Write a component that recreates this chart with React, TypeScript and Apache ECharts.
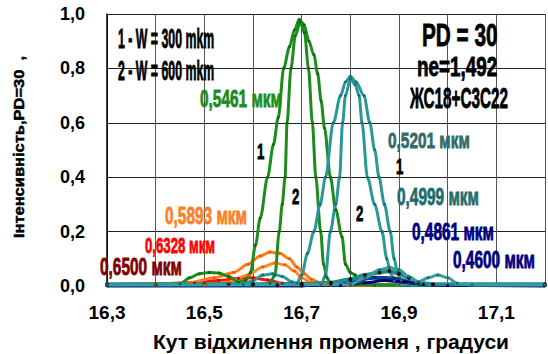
import React, { useEffect, useRef } from "react";
import * as echarts from "echarts";

// x-axis: angle (degrees), y-axis: intensity
const xTicksMin = 16.3;
const xTicksMax = 17.2;
const yTicksMax = 1.0;

const darkRed6500: number[][] = [
  [16.3, 0.004], [16.4, 0.005], [16.5, 0.006], [16.55, 0.008], [16.6, 0.006], [16.65, 0.003], [16.7, 0.002],
];
const red6328: number[][] = [
  [16.3, 0.005], [16.4, 0.008], [16.48, 0.012], [16.53, 0.02], [16.57, 0.028], [16.6, 0.03],
  [16.63, 0.022], [16.66, 0.01], [16.7, 0.003], [16.8, 0.002],
];
const orange5893a: number[][] = [
  [16.3, 0.004], [16.4, 0.006], [16.47, 0.012], [16.52, 0.03], [16.56, 0.05], [16.59, 0.08],
  [16.615, 0.11], [16.635, 0.125], [16.655, 0.12], [16.675, 0.1], [16.69, 0.07], [16.705, 0.045],
  [16.72, 0.025], [16.74, 0.01], [16.76, 0.004], [16.9, 0.003],
];
const orange5893b: number[][] = [
  [16.3, 0.003], [16.5, 0.004], [16.55, 0.015], [16.59, 0.04], [16.62, 0.07], [16.645, 0.085],
  [16.665, 0.078], [16.685, 0.055], [16.7, 0.03], [16.72, 0.012], [16.75, 0.004], [16.9, 0.003],
];
const green5461w300: number[][] = [
  [16.3, 0.003], [16.4, 0.004], [16.45, 0.008], [16.47, 0.03], [16.49, 0.045], [16.51, 0.05],
  [16.53, 0.048], [16.55, 0.035], [16.57, 0.015], [16.585, 0.02], [16.595, 0.05], [16.605, 0.15],
  [16.615, 0.25], [16.63, 0.4], [16.642, 0.52], [16.652, 0.62], [16.663, 0.8], [16.675, 0.88],
  [16.685, 0.94], [16.695, 0.98], [16.705, 0.96], [16.715, 0.9], [16.725, 0.85], [16.733, 0.78],
  [16.74, 0.68], [16.747, 0.58], [16.759, 0.4], [16.77, 0.28], [16.783, 0.18], [16.79, 0.08],
  [16.8, 0.05], [16.81, 0.04], [16.82, 0.01], [16.85, 0.003], [17.2, 0.003],
];
const green5461w600: number[][] = [
  [16.3, 0.003], [16.6, 0.003], [16.635, 0.01], [16.645, 0.04], [16.654, 0.2], [16.66, 0.3],
  [16.666, 0.4], [16.67, 0.6], [16.678, 0.8], [16.687, 0.92], [16.697, 0.97], [16.706, 0.93],
  [16.714, 0.8], [16.722, 0.6], [16.729, 0.4], [16.739, 0.2], [16.745, 0.08], [16.752, 0.03],
  [16.76, 0.005], [17.2, 0.003],
];
const teal5201w300: number[][] = [
  [16.3, 0.003], [16.58, 0.005], [16.6, 0.02], [16.62, 0.04], [16.64, 0.045], [16.66, 0.035],
  [16.68, 0.015], [16.69, 0.01], [16.7, 0.04], [16.712, 0.12], [16.725, 0.2], [16.738, 0.3],
  [16.749, 0.4], [16.765, 0.6], [16.78, 0.7], [16.79, 0.75], [16.8, 0.77], [16.812, 0.75],
  [16.828, 0.7], [16.84, 0.6], [16.85, 0.5], [16.859, 0.4], [16.87, 0.3], [16.882, 0.2],
  [16.89, 0.1], [16.897, 0.05], [16.905, 0.02], [16.92, 0.005], [17.2, 0.003],
];
const teal5201w600: number[][] = [
  [16.3, 0.003], [16.74, 0.005], [16.749, 0.04], [16.759, 0.2], [16.77, 0.3], [16.778, 0.4],
  [16.784, 0.6], [16.79, 0.7], [16.8, 0.76], [16.81, 0.74], [16.818, 0.7], [16.824, 0.6],
  [16.835, 0.4], [16.85, 0.3], [16.865, 0.2], [16.875, 0.1], [16.882, 0.05], [16.89, 0.02],
  [16.9, 0.005], [17.2, 0.003],
];
const teal4999a: number[][] = [
  [16.3, 0.006], [16.6, 0.006], [16.7, 0.008], [16.76, 0.012], [16.8, 0.025], [16.83, 0.04],
  [16.86, 0.05], [16.88, 0.055], [16.9, 0.045], [16.92, 0.03], [16.94, 0.012], [16.97, 0.006], [17.2, 0.006],
];
const teal4999b: number[][] = [
  [16.3, 0.004], [16.8, 0.005], [16.83, 0.03], [16.86, 0.06], [16.88, 0.068], [16.9, 0.06],
  [16.92, 0.035], [16.94, 0.015], [16.96, 0.03], [16.98, 0.04], [17.0, 0.03], [17.02, 0.01],
  [17.05, 0.004], [17.2, 0.004],
];
const navy4861: number[][] = [
  [16.3, 0.002], [16.7, 0.002], [16.76, 0.01], [16.8, 0.02], [16.85, 0.03], [16.89, 0.028],
  [16.93, 0.012], [16.97, 0.004], [17.2, 0.002],
];
const navy4600: number[][] = [
  [16.3, 0.001], [16.78, 0.002], [16.83, 0.012], [16.87, 0.02], [16.91, 0.015], [16.95, 0.006],
  [17.0, 0.002], [17.2, 0.001],
];

const FONT = "'Liberation Sans', Arial, sans-serif";

function mk(name: string, data: number[][], color: string, width: number, symColor: string, symSize: number) {
  return {
    type: "line",
    name,
    data,
    smooth: 0.3,
    smoothMonotone: "x",
    showSymbol: true,
    symbol: "circle",
    symbolSize: symSize,
    lineStyle: { color, width },
    itemStyle: { color: symColor },
    emphasis: { disabled: true },
  };
}

function txt(text: string, x: number, y: number, size: number, sx: number, fill: string, extra: any = {}) {
  return {
    type: "text",
    x,
    y,
    scaleX: sx,
    z: 100,
    style: {
      text,
      fontSize: size,
      fontWeight: "bold",
      fontFamily: FONT,
      fill,
      stroke: fill,
      lineWidth: 0.8,
      align: "left",
      verticalAlign: "middle",
    },
    ...extra,
  };
}

export default function App() {
  const ref = useRef<HTMLDivElement>(null);
  useEffect(() => {
    if (!ref.current) return;
    const chart = echarts.init(ref.current, undefined, { renderer: "svg" });
    const fmt = (v: number) => v.toFixed(1).replace(".", ",");
    chart.setOption({
      animation: false,
      backgroundColor: "#fff",
      grid: { left: 107, right: 0, top: 14, bottom: 68, containLabel: false },
      xAxis: {
        type: "value",
        min: xTicksMin,
        max: xTicksMax,
        interval: 0.1,
        axisLine: { show: true, lineStyle: { color: "#000", width: 1.5 } },
        axisTick: { show: false },
        splitLine: { show: true, lineStyle: { color: "#555", width: 1 } },
        axisLabel: {
          color: "#000",
          fontSize: 19,
          fontWeight: "bold",
          fontFamily: FONT,
          margin: 17,
          formatter: (v: number) => {
            const k = Math.round(v * 10);
            return k % 2 === 1 && k < 172 ? fmt(k / 10) : "";
          },
        },
      },
      yAxis: {
        type: "value",
        min: 0,
        max: yTicksMax,
        interval: 0.2,
        axisLine: { show: true, lineStyle: { color: "#000", width: 1.5 } },
        axisTick: { show: false },
        splitLine: { show: true, lineStyle: { color: "#222", width: 1 } },
        axisLabel: {
          color: "#000",
          fontSize: 18,
          fontWeight: "bold",
          fontFamily: FONT,
          margin: 22,
          formatter: (v: number) => fmt(v),
        },
      },
      series: [
        mk("0,6500", darkRed6500, "#800000", 3, "#5a0000", 4),
        mk("0,6328", red6328, "#ff1010", 3, "#cc0000", 3),
        mk("0,5893 a", orange5893a, "#ff7a1a", 3, "#e06000", 3),
        mk("0,5893 b", orange5893b, "#ff8a2a", 3, "#e06000", 3),
        mk("0,5461 W300", green5461w300, "#1c8c1c", 3, "#0f6a0f", 3),
        mk("0,5461 W600", green5461w600, "#1c8c1c", 3, "#0f6a0f", 3),
        mk("0,5201 W300", teal5201w300, "#2a9898", 3, "#1a6f6f", 3),
        mk("0,5201 W600", teal5201w600, "#2a9898", 3, "#1a6f6f", 3),
        mk("0,4861", navy4861, "#1a3c8c", 4, "#0a2060", 3),
        mk("0,4600", navy4600, "#000080", 3, "#000050", 3),
        mk("0,4999 a", teal4999a, "#268a8a", 4, "#111", 4),
        mk("0,4999 b", teal4999b, "#30a0a0", 3, "#1a6f6f", 3),
      ],
      graphic: [
        txt("1 - W = 300 mkm", 118, 38, 28, 0.44, "#000"),
        txt("2 - W = 600 mkm", 118, 70, 28, 0.44, "#000"),
        txt("PD = 30", 422, 35, 31, 0.67, "#000"),
        txt("ne=1,492", 417, 67, 27, 0.7, "#000"),
        txt("ЖС18+С3С22", 410, 97, 30, 0.51, "#000"),
        txt("0,5461 мкм", 200, 99, 23, 0.67, "#1c8c1c"),
        txt("0,5201 мкм", 388, 140, 22, 0.7, "#336b6b"),
        txt("0,4999 мкм", 397, 197, 23, 0.67, "#1f6e6e"),
        txt("0,4861 мкм", 412, 232, 23, 0.67, "#000080"),
        txt("0,4600 мкм", 453, 260, 23, 0.67, "#000080"),
        txt("0,5893 мкм", 165, 216, 23, 0.67, "#ff7f27"),
        txt("0,6328 мкм", 145, 246, 22, 0.6, "#ff0000"),
        txt("0,6500 мкм", 100, 267, 23, 0.67, "#800000"),
        txt("1", 257, 152, 22, 0.6, "#000"),
        txt("2", 292, 197, 22, 0.6, "#000"),
        txt("2", 356, 214, 22, 0.6, "#000"),
        txt("1", 396, 167, 22, 0.6, "#000"),
        {
          type: "text",
          x: 331,
          y: 341,
          z: 100,
          style: {
            text: "Кут відхилення променя , градуси",
            fontSize: 21,
            fontWeight: "bold",
            fontFamily: FONT,
            fill: "#000",
            align: "center",
            verticalAlign: "middle",
          },
        },
        {
          type: "text",
          x: 19,
          y: 147,
          rotation: Math.PI / 2,
          scaleX: 1.1,
          z: 100,
          style: {
            text: "Інтенсивність,PD=30  ,",
            fontSize: 15,
            fontWeight: "bold",
            fontFamily: FONT,
            fill: "#000",
            stroke: "#000",
            lineWidth: 0.5,
            align: "center",
            verticalAlign: "middle",
          },
        },
      ],
    });
    return () => chart.dispose();
  }, []);
  return (
    <div
      ref={ref}
      style={{ position: "fixed", left: 0, top: 0, width: 548, height: 354 }}
    />
  );
}
